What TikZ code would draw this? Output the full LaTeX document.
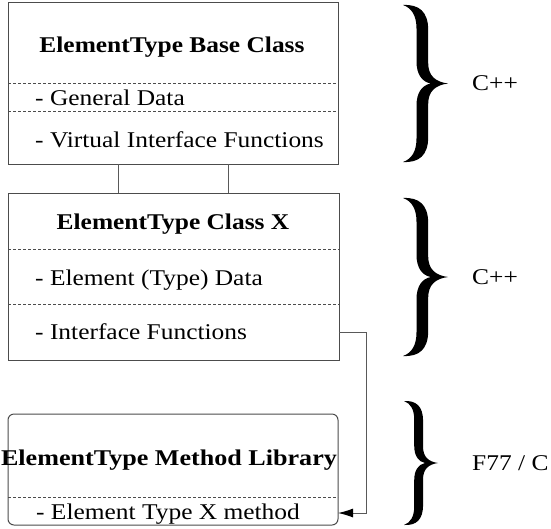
\documentclass[tikz,border=0pt]{standalone}
\usepackage{fontspec}
\setmainfont{Liberation Serif}
\usetikzlibrary{arrows.meta}
\newcommand{\wtxt}[1]{\scalebox{1.13}[1]{#1}}
\tikzset{
  boxframe/.style={draw=black!70, line width=1pt, inner sep=0pt, outer sep=0pt, anchor=north west},
  sepline/.style={draw=black!70, line width=0.8pt, dash pattern=on 3pt off 2pt},
  ttl/.style={font=\fontsize{22.5}{26}\selectfont\bfseries, anchor=base, inner sep=0pt},
  itm/.style={font=\fontsize{22.5}{26}\selectfont, anchor=base west, inner sep=0pt},
  lang/.style={font=\fontsize{22.5}{26}\selectfont, anchor=west, inner sep=0pt},
  conn/.style={draw=black!65, line width=1pt},
  bracefill/.style={fill=black}
}
\newcommand{\bracepath}{%
  (0,0) .. controls (0.35,-0.005) and (0.56,0.04) .. (0.56,0.16)
  -- (0.56,0.37) .. controls (0.56,0.45) and (0.72,0.49) .. (1,0.5)
  .. controls (0.72,0.51) and (0.56,0.55) .. (0.56,0.63)
  -- (0.56,0.84) .. controls (0.56,0.96) and (0.35,1.005) .. (0,1)
  .. controls (0.2,0.98) and (0.3,0.93) .. (0.3,0.85)
  -- (0.3,0.64) .. controls (0.3,0.56) and (0.42,0.51) .. (0.62,0.5)
  .. controls (0.42,0.49) and (0.3,0.44) .. (0.3,0.36)
  -- (0.3,0.15) .. controls (0.3,0.07) and (0.2,0.02) .. (0,0) -- cycle}
\begin{document}
\begin{tikzpicture}[x=1pt, y=-1pt]
\useasboundingbox[fill=white] (0,0) rectangle (551,528);

% Box 1
\node[boxframe, minimum width=330pt, minimum height=162pt] (b1) at (8,2) {};
\coordinate (b1d1) at (0,83);
\coordinate (b1d2) at (0,111);
\draw[sepline] (b1.west |- b1d1) -- (b1.east |- b1d1);
\draw[sepline] (b1.west |- b1d2) -- (b1.east |- b1d2);
\node[ttl] (t1) at (172,52) {\wtxt{ElementType Base Class}};
\node[itm] (gd) at (35,105) {\wtxt{- General Data}};
\node[itm] (vif) at (35,147) {\wtxt{- Virtual Interface Functions}};

% Box 2
\node[boxframe, minimum width=331pt, minimum height=167pt] (b2) at (8,193) {};
\coordinate (b2d1) at (0,249);
\coordinate (b2d2) at (0,304);
\draw[sepline] (b2.west |- b2d1) -- (b2.east |- b2d1);
\draw[sepline] (b2.west |- b2d2) -- (b2.east |- b2d2);
\node[ttl] (t2) at (173,229) {\wtxt{ElementType Class X}};
\node[itm] (etd) at (35,285) {\wtxt{- Element (Type) Data}};
\node[itm] (ifn) at (35,339) {\wtxt{- Interface Functions}};

% Box 3
\node[boxframe, rounded corners=6pt, minimum width=330pt, minimum height=111pt] (b3) at (8,414) {};
\coordinate (b3d1) at (0,497);
\draw[sepline] (b3.west |- b3d1) -- (b3.east |- b3d1);
\node[ttl] (t3) at (169,465) {\scalebox{1.16}[1]{ElementType Method Library}};
\node[ttl, font=\fontsize{22.5}{26}\selectfont] (xm) at (168,519) {\wtxt{- Element Type X method}};

% connectors
\draw[conn] ([xshift=110pt]b1.south west) -- ([xshift=110pt]b2.north west);
\draw[conn] ([xshift=220pt]b1.south west) -- ([xshift=220pt]b2.north west);
\coordinate (r2) at (0,332);
\coordinate (r3) at (0,513);
\draw[conn, -{Latex[length=15pt,width=9pt,color=black]}] (b2.east |- r2) -- ++(27,0) |- (b3.east |- r3);

% braces
\begin{scope}[shift={(403,5)}, xscale=45, yscale=157]
  \fill[bracefill] \bracepath;
\end{scope}
\begin{scope}[shift={(403,198)}, xscale=45, yscale=158]
  \fill[bracefill] \bracepath;
\end{scope}
\begin{scope}[shift={(404,401)}, xscale=34, yscale=124]
  \fill[bracefill] \bracepath;
\end{scope}
\node[lang] (l1) at (472,83) {\wtxt{C++}};
\node[lang] (l2) at (472,277) {\wtxt{C++}};
\node[lang] (l3) at (472,463) {\wtxt{F77 / C}};
\end{tikzpicture}
\end{document}
